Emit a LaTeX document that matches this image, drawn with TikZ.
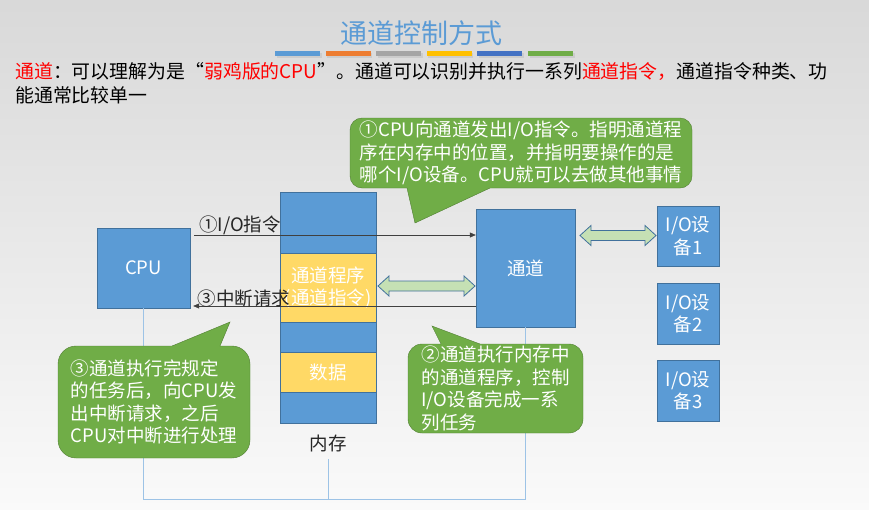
\documentclass[tikz,border=0pt]{standalone}
\usepackage{fontspec}
\setmainfont{Noto Sans CJK SC}
\usetikzlibrary{arrows.meta,calc}
\definecolor{boxblue}{HTML}{5B9BD5}
\definecolor{boxedge}{HTML}{41719C}
\definecolor{memyellow}{HTML}{FFD966}
\definecolor{notegreen}{HTML}{70AD47}
\definecolor{noteedge}{HTML}{507E32}
\definecolor{arrowgreen}{HTML}{C5E0B4}
\definecolor{busblue}{HTML}{9DC3E6}
\definecolor{barorange}{HTML}{ED7D31}
\definecolor{bargray}{HTML}{A5A5A5}
\definecolor{baryellow}{HTML}{FFC000}
\definecolor{bardark}{HTML}{4472C4}
\newcommand{\diagfont}{\fontsize{18.5}{22.5}\selectfont}
\begin{document}
\begin{tikzpicture}[x=1pt, y=-1pt,
    blk/.style={draw=boxedge, fill=boxblue, text=white, inner sep=0, align=center, font=\diagfont},
    memseg/.style={draw=boxedge, fill=memyellow, text=white, inner sep=0, minimum width=96, align=center, font=\diagfont},
    dblarrow/.style={draw=boxedge, fill=arrowgreen, line width=0.8, line join=miter},
    note/.style={draw=noteedge, fill=notegreen, text=white, inner sep=0, align=left, font=\diagfont},
    flow/.style={draw=black!75, line width=0.6, -{Triangle[length=6pt,width=5pt]}},
    bus/.style={draw=busblue, line width=0.8},
    lbl/.style={text=black!85, font=\diagfont}]
  \useasboundingbox (0,0) rectangle (869,509);
  \shade[top color=gray!30, bottom color=gray!4] (0,0) rectangle (869,509);
  \node[text=boxblue, font=\fontsize{27}{30}\selectfont] (title) at (421,33) {通道控制方式};
  \foreach \c [count=\i from 0] in {boxblue,barorange,bargray,baryellow,bardark,notegreen} {
    \fill[black!20] (276.5+\i*50.6,52.5) rectangle ++(45,5);
    \fill[\c] (275+\i*50.6,51) rectangle ++(45,5);
  }
  \node[anchor=north west, align=left, inner sep=0, font=\fontsize{18.9}{24}\selectfont] (intro) at (15,62)
    {\textcolor{red}{通道}：可以理解为是“\textcolor{red}{弱鸡版的CPU}”。通道可以识别并执行一系列\textcolor{red}{通道指令，}通道指令种类、功\\能通常比较单一};

  \node[blk, minimum width=93, minimum height=80] (cpu) at (143.5,268) {CPU};
  \node[blk, minimum width=96, minimum height=231] (mem) at (328,307.5) {};
  \node[memseg, minimum height=69] (prog) at (328,287.5) {通道程序\\(通道指令)};
  \node[memseg, minimum height=40] (data) at (328,372) {数据};
  \node[lbl] (memlbl) at (328,443) {内存};
  \node[blk, minimum width=99, minimum height=118] (chan) at (525.5,268) {通道};
  \node[blk, minimum width=62, minimum height=60] (dev1) at (688,236) {I/O设\\备1};
  \node[blk, minimum width=62, minimum height=61] (dev2) at (688,313.5) {I/O设\\备2};
  \node[blk, minimum width=62, minimum height=61] (dev3) at (688,390.5) {I/O设\\备3};

  \coordinate (busy) at (0,499);
  \draw[bus] (cpu.south) -- (cpu.south |- busy) -- (chan.south |- busy) -- (chan.south);
  \draw[bus] ($(memlbl.south)+(0,4)$) -- (memlbl.south |- busy);

  \draw[dblarrow] (378,286) -- ++(11,-10) -- ++(0,5) -- (464,281) -- ++(0,-5) -- ++(11,10)
    -- ++(-11,10) -- ++(0,-5) -- (389,291) -- ++(0,5) -- cycle;
  \draw[dblarrow] (580,235.5) -- ++(11,-10) -- ++(0,5) -- (645,230.5) -- ++(0,-5) -- ++(11,10)
    -- ++(-11,10) -- ++(0,-5) -- (591,240.5) -- ++(0,5) -- cycle;

  \coordinate (cmdy) at (0,235);
  \coordinate (irqy) at (0,306);
  \draw[flow, shorten <=4] (cpu.east |- cmdy) -- (chan.west |- cmdy);
  \draw[flow, shorten >=3] (chan.west |- irqy) -- (cpu.east |- irqy);
  \node[lbl] (cmdlbl) at (240,225) {①I/O指令};
  \node[lbl] (irqlbl) at (244,298) {③中断请求};

  \node[note, rounded corners=12, minimum width=342, minimum height=70] (note1) at (521,153)
    {①CPU向通道发出I/O指令。指明通道程\\序在内存中的位置，并指明要操作的是\\哪个I/O设备。CPU就可以去做其他事情};
  \coordinate (t1) at (415,223);
  \coordinate (t1a) at (407,188);
  \coordinate (t1b) at (490,188);
  \fill[notegreen] ($(t1)!1.05!(t1a)$) -- (t1) -- ($(t1)!1.05!(t1b)$) -- cycle;
  \draw[noteedge] (t1a) -- (t1) -- (t1b);

  \node[note, rounded corners=14, minimum width=175, minimum height=89] (note2) at (495.5,388.5)
    {②通道执行内存中\\的通道程序，控制\\I/O设备完成一系\\列任务};
  \coordinate (t2) at (432,326);
  \coordinate (t2a) at (441,344);
  \coordinate (t2b) at (480,344);
  \fill[notegreen] ($(t2)!1.1!(t2a)$) -- (t2) -- ($(t2)!1.06!(t2b)$) -- cycle;
  \draw[noteedge] (t2a) -- (t2) -- (t2b);

  \node[note, rounded corners=18, minimum width=192, minimum height=112] (note3) at (154,402)
    {③通道执行完规定\\的任务后，向CPU发\\出中断请求，之后\\CPU对中断进行处理};
  \coordinate (t3) at (230,322);
  \coordinate (t3a) at (172,346);
  \coordinate (t3b) at (220,346);
  \fill[notegreen] ($(t3)!1.06!(t3a)$) -- (t3) -- ($(t3)!1.1!(t3b)$) -- cycle;
  \draw[noteedge] (t3a) -- (t3) -- (t3b);
\end{tikzpicture}
\end{document}
